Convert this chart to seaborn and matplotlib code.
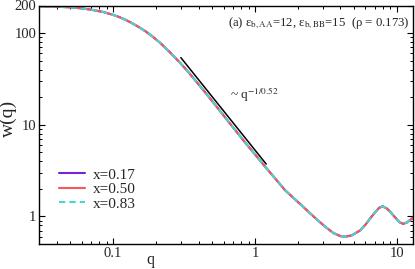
import numpy as np
import pandas as pd
import matplotlib
matplotlib.use("Agg")
import matplotlib.pyplot as plt
import seaborn as sns

# wavevector q and w(q) (the three compositions coincide)
q_values = [0.03, 0.04, 0.05, 0.06, 0.07, 0.085, 0.1, 0.11, 0.123, 0.137,
            0.152, 0.17, 0.189, 0.215, 0.248, 0.27, 0.296, 0.34, 0.4, 0.45,
            0.508, 0.65, 0.874, 1.0, 1.18, 1.4, 1.63, 2.13, 2.72, 3.1,
            3.56, 4.0, 4.3, 4.8, 5.49, 6.0, 6.45, 7.0, 7.5, 7.93,
            8.5, 9.0, 9.42, 10.0, 10.5, 11.1, 11.8, 12.7, 13.0]
w_values = [196, 194, 191, 186, 180, 170, 158, 150, 139, 127.5,
            116, 104, 92, 78, 63, 55, 47.5, 37.3, 27.6, 22.1,
            17.5, 10.8, 6.1, 4.75, 3.48, 2.55, 1.93, 1.32, 0.93, 0.78,
            0.66, 0.61, 0.60, 0.62, 0.70, 0.81, 0.94, 1.10, 1.24, 1.29,
            1.22, 1.12, 1.03, 0.93, 0.86, 0.83, 0.86, 0.94, 0.97]
compositions = ["x=0.17", "x=0.50", "x=0.83"]
colors = ["#7a22d4", "#f25a5a", "#45d6d0"]

# guide line ~ q^(-1/0.52)
guide_q = [0.3, 1.2]
guide_w = [54, 3.72]

# long-form table for seaborn
df = pd.concat(
    [pd.DataFrame({"q": q_values, "w": w_values, "comp": c}) for c in compositions],
    ignore_index=True,
)

sns.set_style("ticks")
plt.rcParams["font.family"] = ["Liberation Serif", "DejaVu Serif"]
plt.rcParams["mathtext.fontset"] = "stix"

fig = plt.figure(figsize=(4.15, 2.69), dpi=100)
ax = fig.add_axes([39 / 415, 1 - 244 / 269, 374 / 415, 238.5 / 269])

sns.lineplot(
    data=df, x="q", y="w", hue="comp", style="comp",
    palette=dict(zip(compositions, colors)),
    dashes={"x=0.17": "", "x=0.50": "", "x=0.83": (3, 2)},
    linewidth=1.5, sort=False, estimator=None, ax=ax,
)
sns.lineplot(x=guide_q, y=guide_w, color="black", linewidth=1.1, ax=ax, legend=False)

ax.set_xscale("log")
ax.set_yscale("log")
ax.set_xlim(0.03, 13)
ax.set_ylim(0.5, 200)
ax.set_xticks([0.1, 1, 10])
ax.set_xticklabels(["0.1", "1", "10"])
ax.set_yticks([1, 10, 100, 200])
ax.set_yticklabels(["1", "10", "100", "200"])

ax.tick_params(which="both", direction="in", top=True, right=True, labelsize=10.5, color="black")
ax.tick_params(which="major", length=4.5, width=0.8, pad=2)
ax.tick_params(which="minor", length=2.3, width=0.7)
for s in ax.spines.values():
    s.set_color("black")
    s.set_linewidth(1.0)

ax.set_xlabel("q", fontsize=11.5)
ax.set_ylabel("w(q)", fontsize=14)
ax.xaxis.set_label_coords(0.297, -0.035)
ax.yaxis.set_label_coords(-0.058, 0.528)

ax.text(0.99, 0.927, r"(a) ε$_{\rm b,AA}$=12, ε$_{\rm b,BB}$=15  (ρ = 0.173)",
        transform=ax.transAxes, ha="right", va="center", fontsize=9.2)
ax.text(0.667, 21.3, r"~ q$^{-1/0.52}$", ha="left", va="center", fontsize=9.5)

handles, labels = ax.get_legend_handles_labels()
ax.legend(handles[:3], labels[:3], loc="lower left", bbox_to_anchor=(0.054, 0.14),
          frameon=False, fontsize=11, handlelength=1.7, handletextpad=0.5,
          labelspacing=0.05, borderpad=0, borderaxespad=0)

fig.savefig("out.png", dpi=100)
